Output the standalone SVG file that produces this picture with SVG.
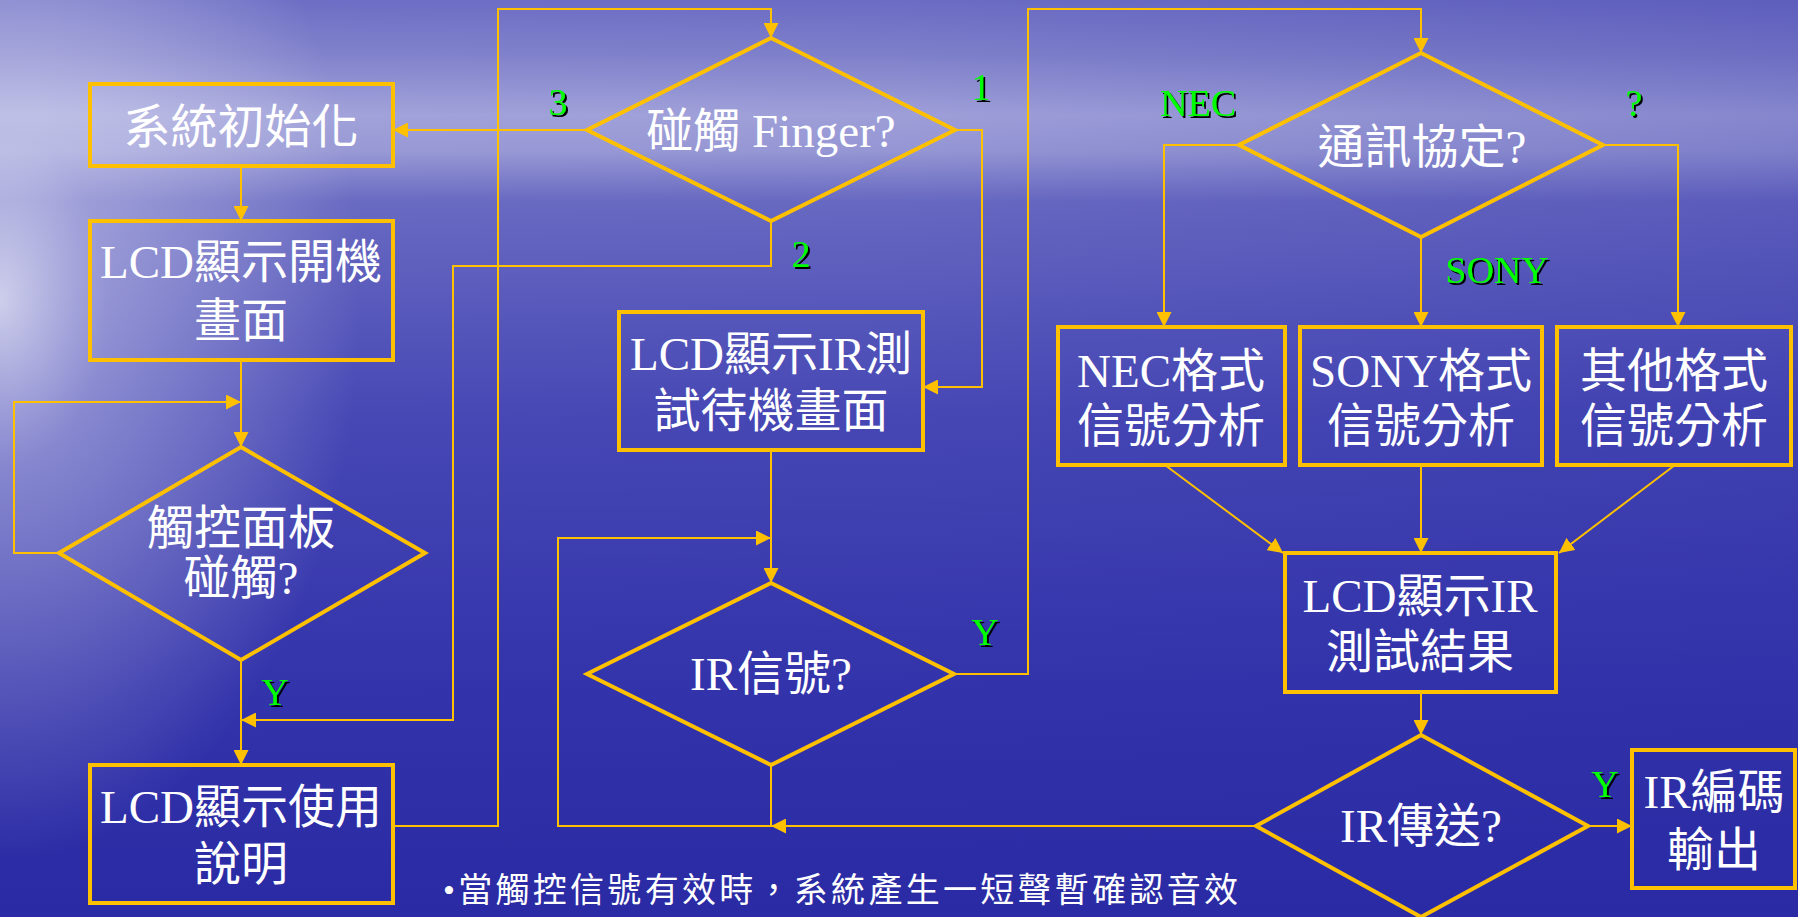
<svg xmlns="http://www.w3.org/2000/svg" width="1798" height="917" viewBox="0 0 1798 917">
<defs>
<linearGradient id="bgv" x1="0" y1="0" x2="0" y2="1">
<stop offset="0" stop-color="#6e6fc5"/>
<stop offset="0.06" stop-color="#8384cc"/>
<stop offset="0.125" stop-color="#a4a5db"/>
<stop offset="0.165" stop-color="#9a9bd6"/>
<stop offset="0.22" stop-color="#6a6bc2"/>
<stop offset="0.45" stop-color="#4849b5"/>
<stop offset="0.75" stop-color="#3333ab"/>
<stop offset="1" stop-color="#2a2aa4"/>
</linearGradient>
<radialGradient id="glow" cx="0" cy="0" r="1" gradientUnits="userSpaceOnUse" gradientTransform="translate(0 300) scale(360 560)">
<stop offset="0" stop-color="#ffffff" stop-opacity="0.7"/>
<stop offset="0.3" stop-color="#e8e8f8" stop-opacity="0.4"/>
<stop offset="1" stop-color="#ffffff" stop-opacity="0"/>
</radialGradient>
<linearGradient id="side" x1="0" y1="0" x2="1" y2="0">
<stop offset="0" stop-color="#2a2aa4" stop-opacity="0"/>
<stop offset="0.5" stop-color="#2a2aa4" stop-opacity="0.05"/>
<stop offset="1" stop-color="#2a2aa4" stop-opacity="0.25"/>
</linearGradient>
<marker id="arr" viewBox="0 0 10 10" refX="10" refY="5" markerUnits="userSpaceOnUse" markerWidth="15" markerHeight="15" orient="auto">
<path d="M0,0 L10,5 L0,10 z" fill="#FFC000"/>
</marker>
<filter id="sh" x="-20%" y="-20%" width="150%" height="150%">
<feDropShadow dx="2" dy="2" stdDeviation="0" flood-color="#000000" flood-opacity="1"/>
</filter>
<style>
.box{fill:none;stroke:#FFC000;stroke-width:4}
.c{fill:none;stroke:#FFC000;stroke-width:2}
.a{marker-end:url(#arr)}
.t{font-family:"Liberation Serif","Noto Sans CJK TC",serif;font-size:47px;fill:#ffffff;text-anchor:middle}
.g{font-family:"Liberation Serif",serif;font-size:38px;fill:#00ff00;text-anchor:middle;filter:url(#sh)}
.n{font-family:"Liberation Serif","Noto Sans CJK TC",serif;font-size:34px;fill:#ffffff}
</style>
</defs>
<rect x="0" y="0" width="1798" height="917" fill="url(#bgv)"/>
<rect x="0" y="0" width="1798" height="917" fill="url(#glow)"/>
<rect x="0" y="0" width="1798" height="917" fill="url(#side)"/>

<g id="connectors">
<path class="c a" d="M241,166 L241,221"/>
<path class="c a" d="M241,360 L241,447"/>
<path class="c a" d="M59,553 L14,553 L14,402 L241,402"/>
<path class="c a" d="M241,660 L241,765"/>
<path class="c a" d="M771,221 L771,266 L453,266 L453,720 L241,720"/>
<path class="c a" d="M393,826 L498,826 L498,9 L771,9 L771,38"/>
<path class="c a" d="M587,130 L393,130"/>
<path class="c a" d="M955,130 L982,130 L982,387 L923,387"/>
<path class="c a" d="M771,450 L771,583"/>
<path class="c a" d="M771,765 L771,826 L558,826 L558,538 L771,538"/>
<path class="c a" d="M1256,826 L771,826"/>
<path class="c a" d="M954,674 L1028,674 L1028,9 L1421,9 L1421,53"/>
<path class="c a" d="M1239,145 L1164,145 L1164,327"/>
<path class="c a" d="M1421,237 L1421,327"/>
<path class="c a" d="M1603,145 L1678,145 L1678,327"/>
<path class="c a" d="M1165,465 L1283,553"/>
<path class="c a" d="M1421,465 L1421,553"/>
<path class="c a" d="M1675,465 L1559,553"/>
<path class="c a" d="M1421,692 L1421,735"/>
<path class="c a" d="M1588,826 L1632,826"/>
</g>

<g id="n_init">
<rect class="box" x="90" y="84" width="303" height="82"/>
<text class="t" x="241" y="143">系統初始化</text>
</g>
<g id="n_boot">
<rect class="box" x="90" y="221" width="303" height="139"/>
<text class="t" x="241" y="278">LCD顯示開機</text>
<text class="t" x="241" y="337">畫面</text>
</g>
<g id="n_panel">
<polygon class="box" points="241,447 425,553 241,660 59,553"/>
<text class="t" x="241" y="544">觸控面板</text>
<text class="t" x="241" y="594">碰觸?</text>
</g>
<g id="n_help">
<rect class="box" x="90" y="765" width="303" height="138"/>
<text class="t" x="241" y="823">LCD顯示使用</text>
<text class="t" x="241" y="880">說明</text>
</g>
<g id="n_finger">
<polygon class="box" points="771,38 955,130 771,221 587,130"/>
<text class="t" x="771" y="147">碰觸 Finger?</text>
</g>
<g id="n_standby">
<rect class="box" x="619" y="312" width="304" height="138"/>
<text class="t" x="771" y="370">LCD顯示IR測</text>
<text class="t" x="771" y="427">試待機畫面</text>
</g>
<g id="n_ir">
<polygon class="box" points="771,583 954,674 771,765 587,674"/>
<text class="t" x="771" y="690">IR信號?</text>
</g>
<g id="n_proto">
<polygon class="box" points="1421,53 1603,145 1421,237 1239,145"/>
<text class="t" x="1422" y="163">通訊協定?</text>
</g>
<g id="n_nec">
<rect class="box" x="1058" y="327" width="227" height="138"/>
<text class="t" x="1171" y="387">NEC格式</text>
<text class="t" x="1171" y="442">信號分析</text>
</g>
<g id="n_sony">
<rect class="box" x="1300" y="327" width="242" height="138"/>
<text class="t" x="1421" y="387">SONY格式</text>
<text class="t" x="1421" y="442">信號分析</text>
</g>
<g id="n_other">
<rect class="box" x="1557" y="327" width="234" height="138"/>
<text class="t" x="1674" y="387">其他格式</text>
<text class="t" x="1674" y="442">信號分析</text>
</g>
<g id="n_result">
<rect class="box" x="1285" y="553" width="271" height="139"/>
<text class="t" x="1420" y="612">LCD顯示IR</text>
<text class="t" x="1420" y="668">測試結果</text>
</g>
<g id="n_send">
<polygon class="box" points="1421,735 1588,826 1421,917 1256,826"/>
<text class="t" x="1421" y="842">IR傳送?</text>
</g>
<g id="n_out">
<rect class="box" x="1632" y="750" width="163" height="138"/>
<text class="t" x="1714" y="808">IR編碼</text>
<text class="t" x="1714" y="866">輸出</text>
</g>

<g id="labels">
<text class="g" x="558" y="115">3</text>
<text class="g" x="981" y="100">1</text>
<text class="g" x="801" y="267">2</text>
<text class="g" x="275" y="705">Y</text>
<text class="g" x="985" y="645">Y</text>
<text class="g" x="1198" y="116">NEC</text>
<text class="g" x="1634" y="116">?</text>
<text class="g" x="1497" y="283">SONY</text>
<text class="g" x="1605" y="797">Y</text>
</g>
<g id="note">
<text class="n" x="443" y="902" textLength="795" lengthAdjust="spacing">•當觸控信號有效時，系統產生一短聲暫確認音效</text>
</g>
</svg>
